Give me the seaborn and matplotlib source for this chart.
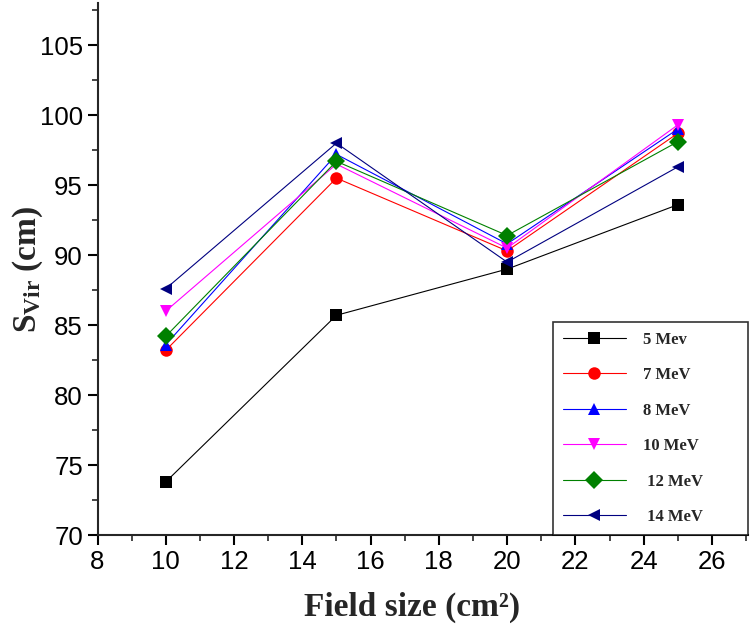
import matplotlib
matplotlib.use("Agg")
import matplotlib.pyplot as plt
from matplotlib.ticker import MultipleLocator
import pandas as pd
import seaborn as sns

field_size = [10, 15, 20, 25]
energies = ["5 Mev", "7 MeV", "8 MeV", "10 MeV", " 12 MeV", " 14 MeV"]
s_vir = {
	"5 Mev": [73.8, 85.7, 89.0, 93.6],
	"7 MeV": [83.2, 95.5, 90.3, 98.7],
	"8 MeV": [83.6, 97.2, 90.8, 99.0],
	"10 MeV": [86.0, 96.5, 90.5, 99.3],
	" 12 MeV": [84.2, 96.7, 91.4, 98.1],
	" 14 MeV": [87.6, 98.0, 89.5, 96.3],
}
colours = ["black", "red", "blue", "magenta", "green", "navy"]
marks = ["s", "o", "^", "v", "D", "<"]

rows = []
for e in energies:
	for fs, v in zip(field_size, s_vir[e]):
		rows.append({"Field size": fs, "Svir": v, "Energy": e})
df = pd.DataFrame(rows)

sns.set_style("ticks")
plt.rcParams['font.family'] = ['Liberation Sans', 'DejaVu Sans']
plt.rcParams['mathtext.fontset'] = 'custom'
plt.rcParams['mathtext.rm'] = 'Liberation Serif:bold'
plt.rcParams['mathtext.bf'] = 'Liberation Serif:bold'
plt.rcParams['mathtext.it'] = 'Liberation Serif:bold'

fig = plt.figure(figsize=(7.5, 6.28), dpi=100)
ax = fig.add_axes([0.13, 0.148, 0.867, 0.847])

sns.lineplot(data=df, x="Field size", y="Svir", hue="Energy", style="Energy",
	hue_order=energies, style_order=energies,
	palette=dict(zip(energies, colours)), markers=dict(zip(energies, marks)),
	dashes=False, linewidth=0.8, markersize=9, markeredgewidth=0,
	ax=ax)

ax.set_xlim(8, 27.05)
ax.set_ylim(70, 108)
ax.xaxis.set_major_locator(MultipleLocator(2))
ax.xaxis.set_minor_locator(MultipleLocator(1))
ax.yaxis.set_major_locator(MultipleLocator(5))
ax.yaxis.set_minor_locator(MultipleLocator(2.5))
ax.tick_params(which="major", direction="out", length=7, width=1.5, labelsize=18.5, colors="black")
ax.tick_params(which="minor", direction="out", length=4, width=1.2)

ax.spines['top'].set_visible(False)
ax.spines['right'].set_visible(False)
ax.spines['left'].set_linewidth(1.5)
ax.spines['bottom'].set_linewidth(1.5)

serif = ['Liberation Serif', 'DejaVu Serif']
ax.set_xlabel("Field size (cm²)", fontsize=24, fontweight="bold", family=serif)
ax.set_ylabel("S$_{\\mathrm{Vir}}$ (cm)", fontsize=24, fontweight="bold", family=serif)
ax.xaxis.set_label_coords(0.484, -0.107)
ax.yaxis.set_label_coords(-0.081, 0.5)

leg = ax.legend(loc="lower left", bbox_to_anchor=(0.7, 0.0, 0.3, 0.4), mode="expand",
	frameon=True, fancybox=False,
	edgecolor="black", handlelength=3.8, handletextpad=1.0, labelspacing=1.17,
	borderpad=0.6, borderaxespad=0,
	prop={"family": serif, "weight": "bold", "size": 12})
leg.get_frame().set_linewidth(1.2)

plt.savefig("out.png", dpi=100)
